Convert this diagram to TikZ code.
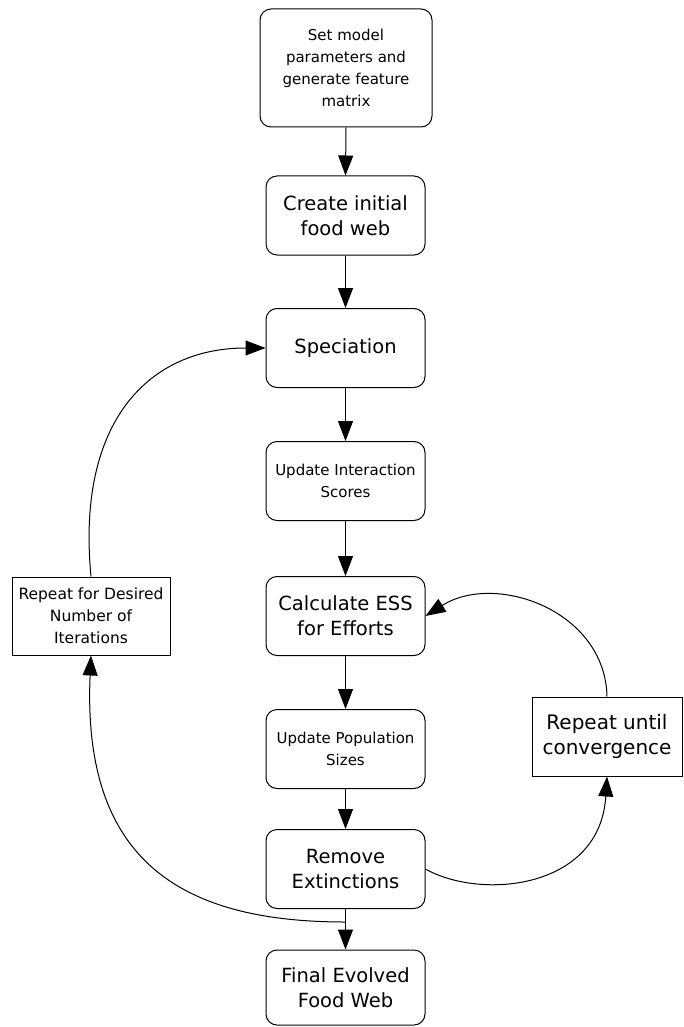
\documentclass[tikz,border=0pt]{standalone}
\usepackage{fontspec}
\setmainfont{DejaVu Sans}
\usetikzlibrary{arrows.meta}

\begin{document}
\begin{tikzpicture}[x=1pt, y=-1pt, line width=1pt, >={Triangle[length=20pt,width=15pt]},
    stage/.style={draw, rounded corners=11pt, align=center, minimum width=159pt, minimum height=79pt, inner sep=2pt},
    loopbox/.style={draw, align=center, minimum height=79pt, inner sep=2pt},
    big/.style={font=\fontsize{19.5}{25}\selectfont},
    small/.style={font=\fontsize{15}{22}\selectfont}]
    \useasboundingbox (0,0) rectangle (683,1027);
    \node[stage, small, minimum width=172pt, minimum height=118pt] (setup) at (346,68) {Set model\\parameters and\\generate feature\\matrix};
    \node[stage, big] (create) at (345.5,215.5) {Create initial\\food web};
    \node[stage, big] (spec) at (345.5,348) {Speciation};
    \node[stage, small] (inter) at (345.5,481) {Update Interaction\\Scores};
    \node[stage, big] (ess) at (345.5,616) {Calculate ESS\\for Efforts};
    \node[stage, small] (pop) at (345.5,749) {Update Population\\Sizes};
    \node[stage, big] (ext) at (345.5,869) {Remove\\Extinctions};
    \node[stage, big, minimum height=75pt] (final) at (345.5,987.5) {Final Evolved\\Food Web};
    \node[loopbox, small, font=\fontsize{15.5}{22}\selectfont, minimum width=158pt, minimum height=78pt] (iter) at (91,616) {Repeat for Desired\\Number of\\Iterations};
    \node[loopbox, big, font=\fontsize{20}{25}\selectfont, minimum width=150pt] (conv) at (607,736.5) {Repeat until\\convergence};
    \coordinate (join) at (345.5,922);
    \foreach \a/\b in {setup/create, create/spec, spec/inter, inter/ess, ess/pop, pop/ext, ext/final}
        \draw[->] (\a.south) -- (\b.north);
    \draw[->] (join) .. controls (180,922) and (82,860) .. (iter.south);
    \draw[->] (iter.north) .. controls (76,420) and (150,348) .. (spec.west);
    \draw[->] (conv.north) .. controls (605,610) and (495,572) .. (ess.east);
    \draw[->] (ext.east) .. controls (480,900) and (600,890) .. (conv.south);
\end{tikzpicture}
\end{document}
